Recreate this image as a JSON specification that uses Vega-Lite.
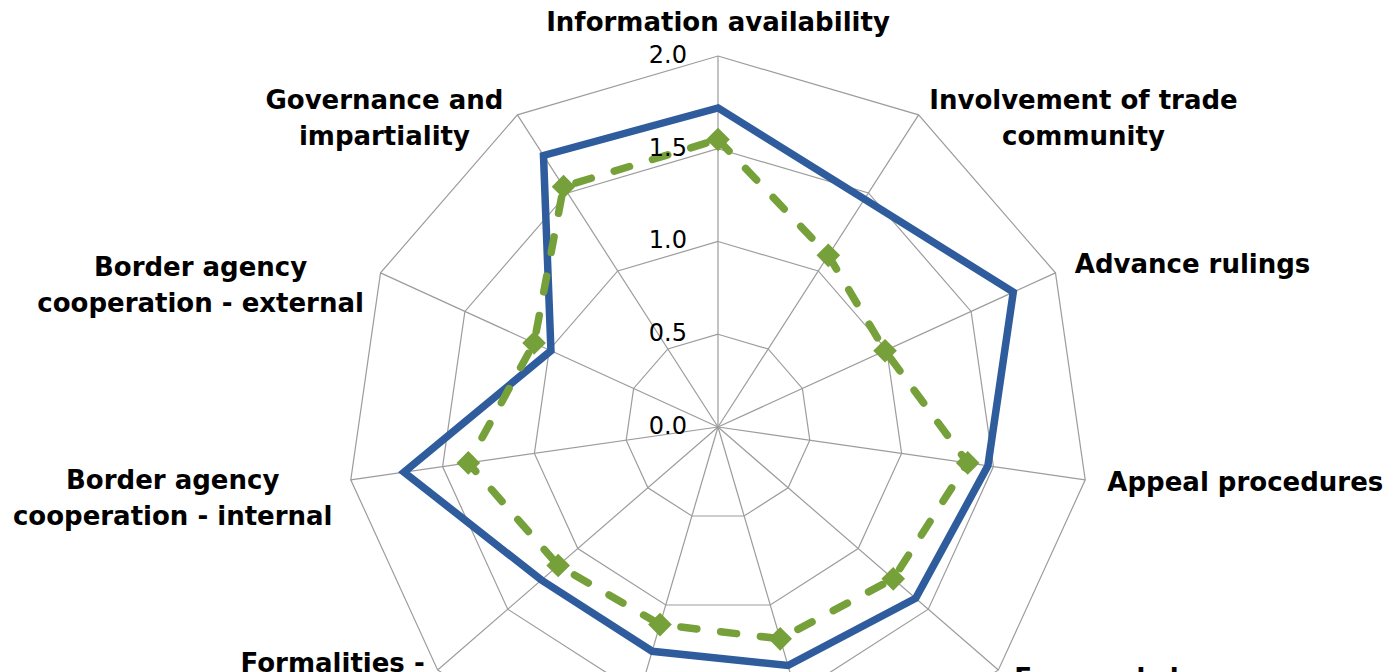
{
  "$schema": "https://vega.github.io/schema/vega-lite/v6.json",
  "width": 1397,
  "height": 672,
  "padding": 0,
  "autosize": {"type": "none"},
  "background": "white",
  "config": {"view": {"stroke": null}},
  "datasets": {
    "cats": [
      {"i": 0, "label": "Information availability", "s1": 1.72, "s2": 1.55},
      {"i": 1, "label": "Involvement of trade\ncommunity", "s1": 1.46, "s2": 1.1},
      {"i": 2, "label": "Advance rulings", "s1": 1.75, "s2": 0.99},
      {"i": 3, "label": "Appeal procedures", "s1": 1.47, "s2": 1.36},
      {"i": 4, "label": "Fees and charges", "s1": 1.41, "s2": 1.25},
      {"i": 5, "label": "Formalities -\ndocuments", "s1": 1.34, "s2": 1.19},
      {"i": 6, "label": "Formalities -\nautomation", "s1": 1.26, "s2": 1.11},
      {"i": 7, "label": "Formalities -\nprocedures", "s1": 1.26, "s2": 1.14},
      {"i": 8, "label": "Border agency\ncooperation - internal", "s1": 1.71, "s2": 1.36},
      {"i": 9, "label": "Border agency\ncooperation - external", "s1": 0.99, "s2": 1.09},
      {"i": 10, "label": "Governance and\nimpartiality", "s1": 1.74, "s2": 1.54}
    ],
    "rings": [
      {"level": 0.5, "k": [0, 1, 2, 3, 4, 5, 6, 7, 8, 9, 10]},
      {"level": 1.0, "k": [0, 1, 2, 3, 4, 5, 6, 7, 8, 9, 10]},
      {"level": 1.5, "k": [0, 1, 2, 3, 4, 5, 6, 7, 8, 9, 10]},
      {"level": 2.0, "k": [0, 1, 2, 3, 4, 5, 6, 7, 8, 9, 10]}
    ],
    "ticks": [{"v": 0}, {"v": 0.5}, {"v": 1.0}, {"v": 1.5}, {"v": 2.0}]
  },
  "encoding": {
    "x": {"field": "px", "type": "quantitative", "scale": {"domain": [-3.8706, 3.6604], "nice": false, "zero": false}, "axis": null},
    "y": {"field": "py", "type": "quantitative", "scale": {"domain": [-1.3208, 2.3019], "nice": false, "zero": false}, "axis": null}
  },
  "layer": [
    {
      "data": {"name": "rings"},
      "transform": [
        {"flatten": ["k"]},
        {"calculate": "datum.k * 2 * PI / 11", "as": "a"},
        {"calculate": "datum.level * sin(datum.a)", "as": "px"},
        {"calculate": "datum.level * cos(datum.a)", "as": "py"}
      ],
      "mark": {"type": "line", "interpolate": "linear-closed", "stroke": "#9c9c9c", "strokeWidth": 1.2, "clip": true},
      "encoding": {
        "detail": {"field": "level", "type": "nominal"},
        "order": {"field": "k", "type": "quantitative"}
      }
    },
    {
      "data": {"name": "cats"},
      "transform": [
        {"calculate": "datum.i * 2 * PI / 11", "as": "a"},
        {"calculate": "2 * sin(datum.a)", "as": "px"},
        {"calculate": "2 * cos(datum.a)", "as": "py"},
        {"calculate": "0", "as": "zero"}
      ],
      "mark": {"type": "rule", "stroke": "#9c9c9c", "strokeWidth": 1.2, "clip": true},
      "encoding": {
        "x2": {"field": "zero"},
        "y2": {"field": "zero"}
      }
    },
    {
      "data": {"name": "cats"},
      "transform": [
        {"calculate": "datum.i * 2 * PI / 11", "as": "a"},
        {"calculate": "datum.s1 * sin(datum.a)", "as": "px"},
        {"calculate": "datum.s1 * cos(datum.a)", "as": "py"}
      ],
      "mark": {"type": "line", "interpolate": "linear-closed", "stroke": "#2f5c9c", "strokeWidth": 7.5, "strokeJoin": "miter", "clip": true},
      "encoding": {"order": {"field": "i", "type": "quantitative"}}
    },
    {
      "data": {"name": "cats"},
      "transform": [
        {"calculate": "datum.i * 2 * PI / 11", "as": "a"},
        {"calculate": "datum.s2 * sin(datum.a)", "as": "px"},
        {"calculate": "datum.s2 * cos(datum.a)", "as": "py"}
      ],
      "mark": {"type": "line", "interpolate": "linear-closed", "stroke": "#76a03a", "strokeWidth": 7.5, "strokeDash": [16, 24], "strokeCap": "round", "clip": true},
      "encoding": {"order": {"field": "i", "type": "quantitative"}}
    },
    {
      "data": {"name": "cats"},
      "transform": [
        {"calculate": "datum.i * 2 * PI / 11", "as": "a"},
        {"calculate": "datum.s2 * sin(datum.a)", "as": "px"},
        {"calculate": "datum.s2 * cos(datum.a)", "as": "py"}
      ],
      "mark": {"type": "point", "shape": "diamond", "filled": true, "size": 560, "color": "#76a03a", "opacity": 1, "clip": true}
    },
    {
      "data": {"name": "ticks"},
      "transform": [
        {"calculate": "0", "as": "px"},
        {"calculate": "datum.v", "as": "py"}
      ],
      "mark": {"type": "text", "align": "right", "baseline": "middle", "dx": -31, "font": "DejaVu Sans", "fontSize": 24, "color": "#000000"},
      "encoding": {"text": {"field": "v", "type": "quantitative", "format": ".1f"}}
    },
    {
      "data": {"name": "cats"},
      "transform": [
        {"calculate": "datum.i * 2 * PI / 11", "as": "a"},
        {"calculate": "2 * sin(datum.a) + [0, 0.889, 0.739, 0.863, 0.776, 0.62, -0.62, -0.566, -0.960, -0.970, -0.717][datum.i]", "as": "px"},
        {"calculate": "2 * cos(datum.a) + [0.178, 0.075, 0.043, -0.016, -0.049, -0.1, -0.1, 0.032, -0.005, 0.027, 0.075][datum.i]", "as": "py"}
      ],
      "mark": {"type": "text", "align": "center", "baseline": "middle", "lineBreak": "\n", "lineHeight": 36, "font": "DejaVu Sans", "fontWeight": "bold", "fontSize": 26, "color": "#000000"},
      "encoding": {"text": {"field": "label", "type": "nominal"}}
    }
  ]
}
